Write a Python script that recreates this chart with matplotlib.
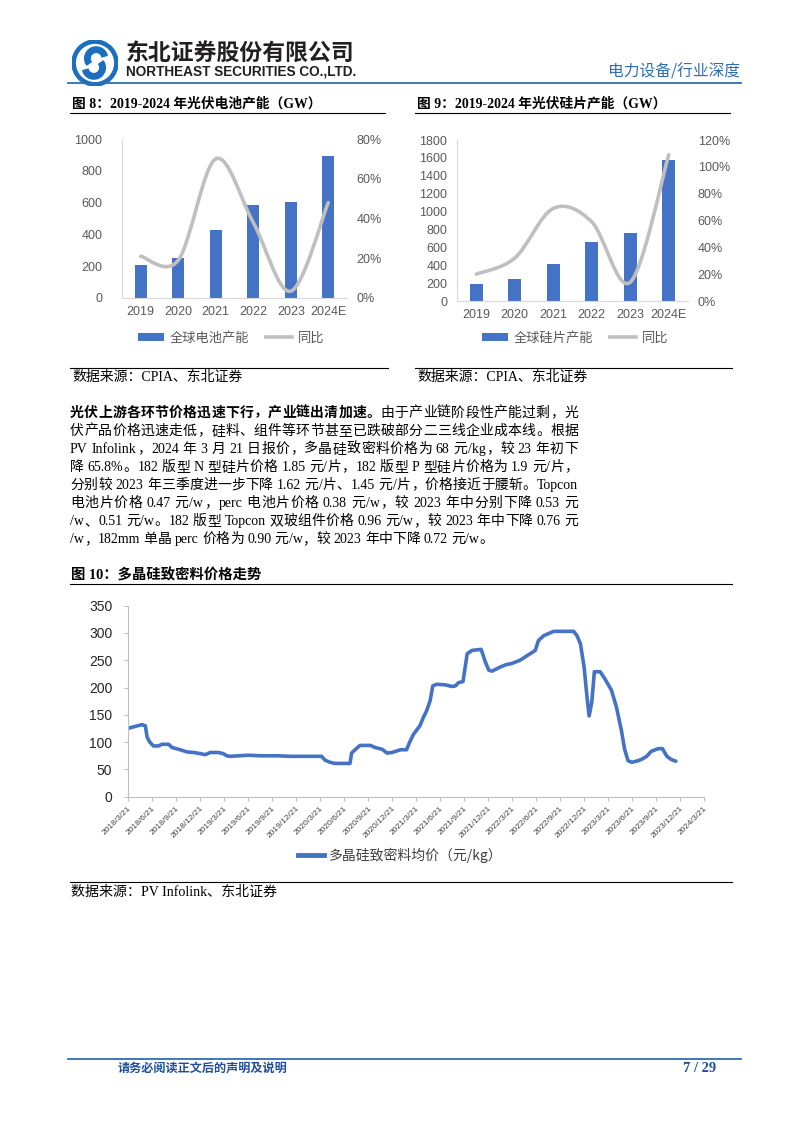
import re
import numpy as np
import pandas as pd
import matplotlib
matplotlib.use("Agg")
import matplotlib.pyplot as plt
from matplotlib.path import Path
from matplotlib.patches import PathPatch, Circle, Wedge
from matplotlib.lines import Line2D

W, H = 802, 1133
BLUE = "#4472C4"
GRAY = "#BFBFBF"
HEAD_BLUE = "#2E6DB4"
SERIF = ["Liberation Serif", "Noto Sans CJK SC"]
SANS = ["Liberation Sans", "Noto Sans CJK SC"]
CJK = ["Noto Sans CJK SC", "DejaVu Sans"]

# ---- data ----
years = ["2019", "2020", "2021", "2022", "2023", "2024E"]
cell_cap = [210, 250, 425, 585, 605, 895]
cell_yoy = [21, 19, 70, 38, 3.4, 48]
wafer_cap = [185, 245, 415, 660, 755, 1575]
wafer_yoy = [20, 32, 69, 59, 14, 109]

price_dates = [
    "2018-03-21", "2018-04-12", "2018-05-14", "2018-05-27", "2018-06-03", "2018-06-13",
    "2018-06-27", "2018-07-16", "2018-07-29", "2018-08-24", "2018-09-06", "2018-09-30",
    "2018-11-02", "2018-11-27", "2018-12-22", "2019-01-10", "2019-01-29", "2019-03-01",
    "2019-03-19", "2019-04-02", "2019-04-14", "2019-06-24", "2019-08-07", "2019-10-11",
    "2019-11-30", "2020-03-28", "2020-04-10", "2020-04-29", "2020-05-18", "2020-07-14",
    "2020-07-20", "2020-08-02", "2020-08-21", "2020-09-30", "2020-10-18", "2020-11-13",
    "2020-12-02", "2020-12-21", "2021-01-22", "2021-02-14", "2021-02-26", "2021-03-12",
    "2021-04-06", "2021-04-19", "2021-05-02", "2021-05-15", "2021-05-25", "2021-06-09",
    "2021-07-11", "2021-08-06", "2021-08-19", "2021-08-31", "2021-09-17", "2021-10-03",
    "2021-10-21", "2021-11-25", "2021-12-11", "2021-12-24", "2022-01-05", "2022-02-03",
    "2022-02-28", "2022-03-21", "2022-04-22", "2022-05-24", "2022-06-19", "2022-07-01",
    "2022-07-21", "2022-08-09", "2022-08-28", "2022-11-12", "2022-11-25", "2022-12-08",
    "2022-12-22", "2023-01-02", "2023-01-10", "2023-01-20", "2023-01-30", "2023-02-21",
    "2023-03-11", "2023-04-05", "2023-04-24", "2023-05-13", "2023-05-25", "2023-06-07",
    "2023-06-21", "2023-07-16", "2023-07-31", "2023-08-17", "2023-09-03", "2023-09-29",
    "2023-10-16", "2023-11-02", "2023-11-19", "2023-12-06",
]
price_vals = [
    125, 128, 132, 130, 109, 100,
    93, 93, 96, 96, 90, 87,
    82, 81, 79, 77, 81, 81,
    79, 75, 74, 76, 75, 75,
    74, 74, 67, 63, 61, 61,
    80, 86, 94, 94, 90, 87,
    80, 81, 86, 86, 100, 114,
    130, 145, 158, 176, 203, 206,
    205, 202, 203, 209, 211, 262,
    268, 270, 247, 232, 230, 237,
    242, 244, 250, 260, 268, 286,
    295, 299, 303, 303, 295, 280,
    237, 182, 148, 173, 229, 229,
    216, 195, 164, 121, 87, 66,
    63, 66, 69, 74, 83, 88,
    88, 74, 68, 65,
]

para_lines = [
    [("光伏上游各环节价格迅速下行，产业链出清加速。", True), ("由于产业链阶段性产能过剩，光", False)],
    [("伏产品价格迅速走低，硅料、组件等环节甚至已跌破部分二三线企业成本线。根据", False)],
    [("PV Infolink，2024 年 3 月 21 日报价，多晶硅致密料价格为 68 元/kg，较 23 年初下", False)],
    [("降 65.8%。182 版型 N 型硅片价格 1.85 元/片，182 版型 P 型硅片价格为 1.9 元/片，", False)],
    [("分别较 2023 年三季度进一步下降 1.62 元/片、1.45 元/片，价格接近于腰斩。Topcon", False)],
    [("电池片价格 0.47 元/w，perc 电池片价格 0.38 元/w，较 2023 年中分别下降 0.53 元", False)],
    [("/w、0.51 元/w。182 版型 Topcon 双玻组件价格 0.96 元/w，较 2023 年中下降 0.76 元", False)],
    [("/w，182mm 单晶 perc 价格为 0.90 元/w，较 2023 年中下降 0.72 元/w。", False)],
]

fig = plt.figure(figsize=(W / 100, H / 100), dpi=100)
renderer = fig.canvas.get_renderer()


def fx(x):
    return x / W


def fy(y):
    return 1 - y / H


def hline(y, x0, x1, color="#000000", lw=0.8):
    fig.add_artist(Line2D([fx(x0), fx(x1)], [fy(y), fy(y)], color=color, lw=lw,
                          transform=fig.transFigure))


def fit_text(x, y, s, width, size=10, ha="left", **kw):
    t = fig.text(fx(x), fy(y), s, fontsize=size, ha=ha, va="center", **kw)
    w = t.get_window_extent(renderer).width
    t.set_fontsize(size * width / w)
    return t


def justify_line(y, tokens, x0, x1, size, last=False):
    items = []
    for s, bold in tokens:
        for piece in re.findall(r"[A-Za-z0-9.%/\-]+| +|.", s):
            if piece.isspace():
                items.append((None, size * 0.25 * 100 / 72))
                continue
            t = fig.text(0, 0, piece, fontsize=size, family=SERIF, va="center",
                         fontweight="bold" if bold else "normal")
            items.append((t, t.get_window_extent(renderer).width))
    total = sum(w for _, w in items)
    n = sum(1 for t, _ in items if t is not None)
    extra = 0 if last else (x1 - x0 - total) / max(n - 1, 1)
    x = x0
    for t, w in items:
        if t is None:
            x += w
            continue
        t.set_position((fx(x), fy(y)))
        x += w + extra


def smooth_path(xs, ys):
    pts = np.column_stack([xs, ys]).astype(float)
    n = len(pts)
    verts, codes = [pts[0]], [Path.MOVETO]
    for i in range(n - 1):
        p0, p1 = pts[max(i - 1, 0)], pts[i]
        p2, p3 = pts[i + 1], pts[min(i + 2, n - 1)]
        verts += [p1 + (p2 - p0) / 6, p2 - (p3 - p1) / 6, p2]
        codes += [Path.CURVE4] * 3
    return Path(verts, codes)


# ---- header ----
lax = fig.add_axes([fx(72), fy(86), 46 / W, 46 / H])
lax.set_xlim(-1, 1)
lax.set_ylim(-1, 1)
lax.axis("off")
lax.add_patch(Circle((0, 0), 1.0, color="#1C6FBF"))
lax.add_patch(Circle((0, 0), 0.8, color="white"))
lax.add_patch(Wedge((0.05, 0.2), 0.5, 15, 215, width=0.24, color="#1C6FBF"))
lax.add_patch(Wedge((-0.05, -0.2), 0.5, 195, 395, width=0.24, color="#1C6FBF"))

fit_text(126, 53, "东北证券股份有限公司", 229, size=16, family=CJK, fontweight="bold",
         color="#231F20")
fit_text(126, 72, "NORTHEAST SECURITIES CO.,LTD.", 231, size=9, family=SANS,
         fontweight="bold", color="#231F20")
fit_text(740, 72, "电力设备/行业深度", 132, size=10, ha="right", family=CJK, color=HEAD_BLUE)
hline(83, 68, 741, color=HEAD_BLUE, lw=1.3)

# ---- figure 8 / 9 titles ----
fit_text(72, 104, "图 8：2019-2024 年光伏电池产能（GW）", 248, size=10, family=SERIF,
         fontweight="bold")
fit_text(417, 104, "图 9：2019-2024 年光伏硅片产能（GW）", 248, size=10, family=SERIF,
         fontweight="bold")
hline(113, 70, 385)
hline(113, 415, 730)


def bar_chart(rect, cap, yoy, ymax, ystep, rmax, label, legend_x, lpad):
    ax = fig.add_axes(rect)
    x = np.arange(len(years))
    bars = ax.bar(x, cap, width=0.33, color=BLUE, zorder=2)
    ax.set_xlim(-0.5, len(years) - 0.5)
    ax.set_ylim(0, ymax)
    ax.set_yticks(np.arange(0, ymax + 1, ystep))
    ax.set_xticks(x)
    ax.set_xticklabels(years)
    for s in ["top", "right"]:
        ax.spines[s].set_visible(False)
    for s in ["left", "bottom"]:
        ax.spines[s].set_color("#D9D9D9")
    ax.tick_params(axis="y", length=0, labelsize=9, colors="#595959", pad=lpad)
    ax.tick_params(axis="x", length=0, labelsize=9, colors="#595959", pad=6)
    for t in ax.get_xticklabels() + ax.get_yticklabels():
        t.set_family(SANS)

    ax2 = ax.twinx()
    ax2.set_ylim(0, rmax)
    ax2.set_yticks(np.arange(0, rmax + 1, 20))
    ax2.set_yticklabels([f"{v}%" for v in range(0, rmax + 1, 20)])
    for s in ax2.spines.values():
        s.set_visible(False)
    ax2.tick_params(axis="y", length=0, labelsize=9, colors="#595959", pad=7)
    for t in ax2.get_yticklabels():
        t.set_family(SANS)
    ax2.add_patch(PathPatch(smooth_path(x, yoy), fill=False, edgecolor=GRAY, lw=2.6,
                            capstyle="round", zorder=3))

    fig.legend([bars, Line2D([], [], color=GRAY, lw=2.6)], [label, "同比"],
               loc="center", bbox_to_anchor=(fx(legend_x), fy(338)), ncol=2,
               frameon=False, handlelength=2.0, handleheight=0.55, columnspacing=1.3,
               handletextpad=0.4, prop={"family": CJK, "size": 9.5},
               labelcolor="#595959")


bar_chart([fx(122), fy(298), 225 / W, 159 / H], cell_cap, cell_yoy, 1000, 200, 80,
          "全球电池产能", 231, 14)
bar_chart([fx(457), fy(301), 231 / W, 161 / H], wafer_cap, wafer_yoy, 1800, 200, 120,
          "全球硅片产能", 575, 7)

hline(368, 70, 388)
hline(368, 415, 732)
fit_text(72, 377, "数据来源：CPIA、东北证券", 170, size=10, family=SERIF)
fit_text(417, 377, "数据来源：CPIA、东北证券", 170, size=10, family=SERIF)

# ---- paragraph ----
for i, toks in enumerate(para_lines):
    justify_line(413 + 18.05 * i, toks, 70, 578, 10, last=(i == len(para_lines) - 1))

# ---- figure 10 ----
fit_text(71, 575, "图 10：多晶硅致密料价格走势", 190, size=10, family=SERIF, fontweight="bold")
hline(584, 70, 732)

ax = fig.add_axes([fx(127.7), fy(796.7), 576 / W, 191 / H])
dates = pd.to_datetime(price_dates)
ax.plot(dates, price_vals, color=BLUE, lw=2.6, solid_joinstyle="round",
        solid_capstyle="round")
tick_dates = pd.date_range("2018-03-21", "2024-03-21", freq=pd.DateOffset(months=3))
ax.set_xlim(tick_dates[0], tick_dates[-1])
ax.set_xticks(tick_dates)
ax.set_xticklabels([f"{d.year}/{d.month}/{d.day}" for d in tick_dates], rotation=45,
                   ha="right", rotation_mode="anchor", fontsize=6, color="#404040",
                   family=SANS)
ax.set_ylim(0, 350)
ax.set_yticks(range(0, 351, 50))
for t in ax.get_yticklabels():
    t.set_family(SANS)
for s in ["top", "right"]:
    ax.spines[s].set_visible(False)
for s in ["left", "bottom"]:
    ax.spines[s].set_color("#BFBFBF")
ax.tick_params(axis="y", length=3, color="#BFBFBF", labelsize=10, labelcolor="#262626",
               pad=8)
ax.tick_params(axis="x", length=3, color="#BFBFBF", pad=3)

fig.legend([Line2D([], [], color=BLUE, lw=3.5)], ["多晶硅致密料均价（元/kg）"],
           loc="center", bbox_to_anchor=(fx(400), fy(855)), frameon=False,
           handlelength=1.9, handletextpad=0.3, prop={"family": CJK, "size": 10},
           labelcolor="#404040")

hline(882, 70, 732)
fit_text(71, 892, "数据来源：PV Infolink、东北证券", 206, size=10, family=SERIF)

# ---- footer ----
hline(1059, 68, 741, color=HEAD_BLUE, lw=1.3)
fit_text(118, 1069, "请务必阅读正文后的声明及说明", 170, size=9, family=CJK,
         fontweight="bold", color="#1F4E9C")
fit_text(716, 1069, "7 / 29", 33, size=9, ha="right", family=SERIF, fontweight="bold",
         color="#1F4E9C")

fig.savefig("out.png", dpi=100)
